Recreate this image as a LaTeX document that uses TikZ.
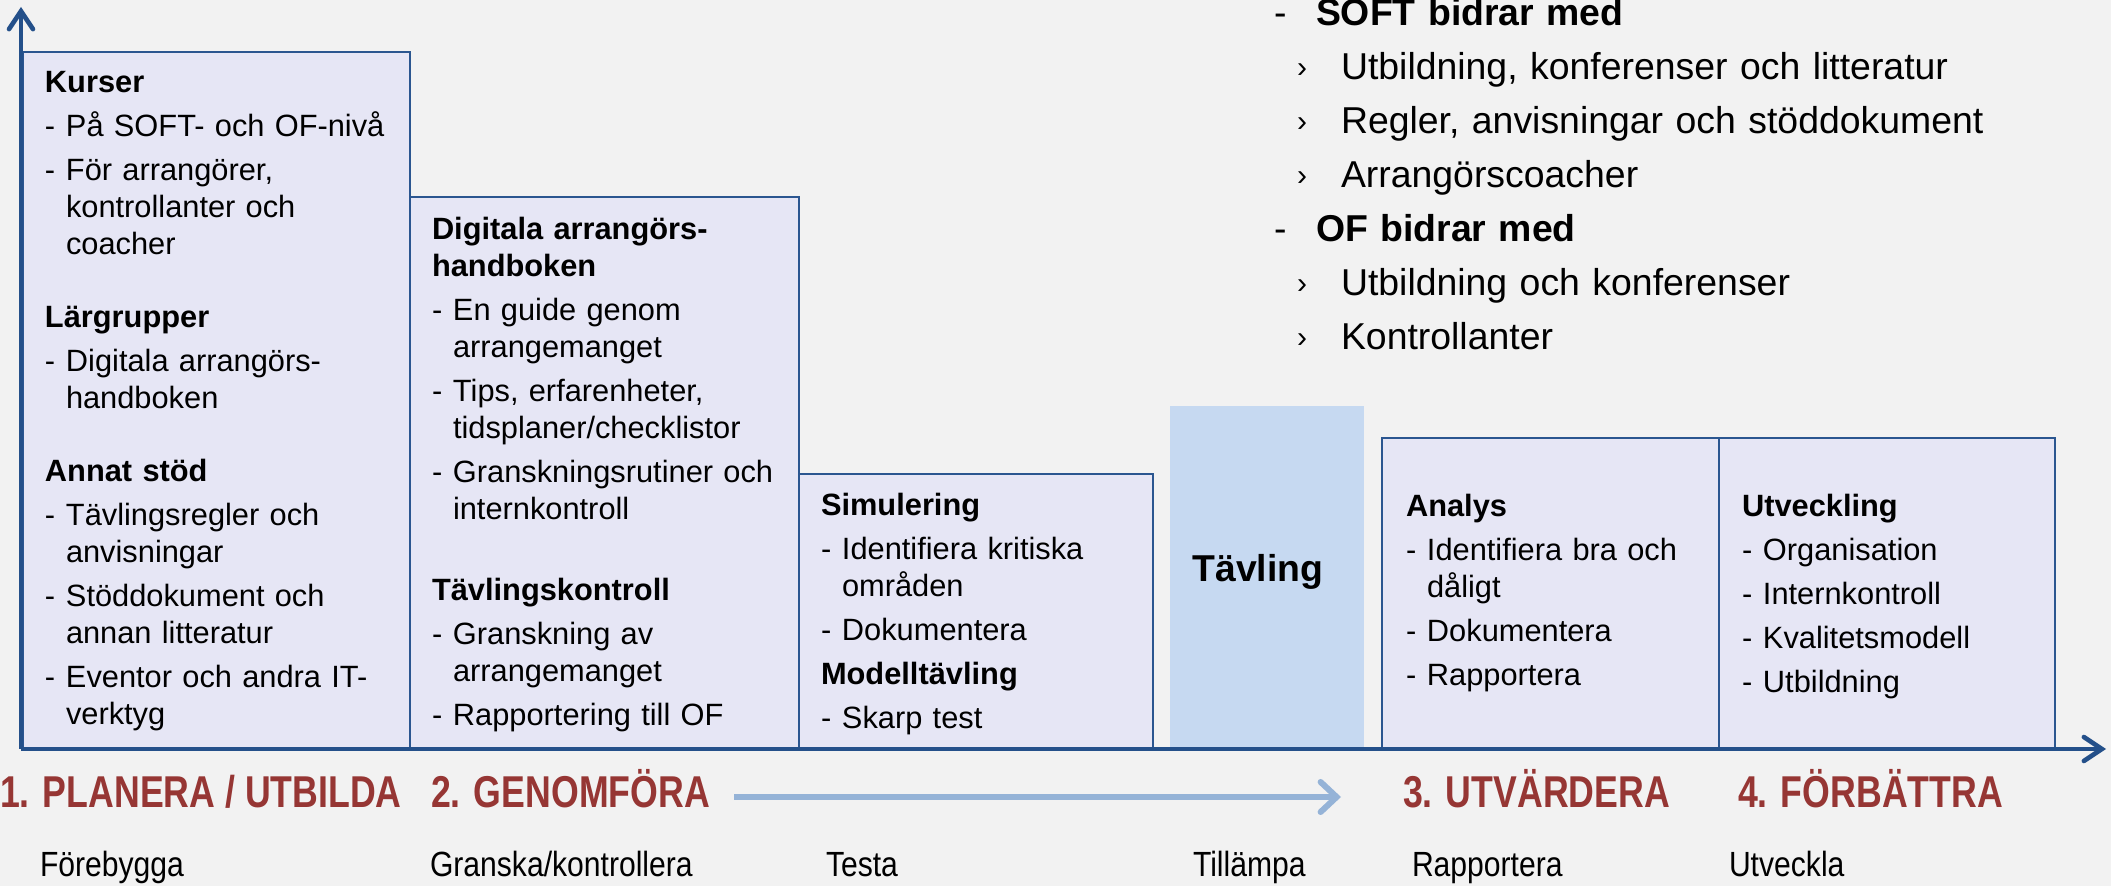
\documentclass[tikz,border=0pt]{standalone}
\usepackage{fontspec}
\setmainfont{Liberation Sans}
\newfontfamily\phasefont[FakeStretch=0.80]{Liberation Sans}
\newfontfamily\stepfont[FakeStretch=0.86]{Liberation Sans}
\usetikzlibrary{arrows.meta,fit}

\definecolor{bgcol}{HTML}{F2F2F2}
\definecolor{boxfill}{HTML}{E6E6F5}
\definecolor{boxline}{HTML}{2B5690}
\definecolor{axiscol}{HTML}{24508A}
\definecolor{tavfill}{HTML}{C6D9F1}
\definecolor{phasered}{HTML}{963634}
\definecolor{flowcol}{HTML}{95B3D7}

% dash bullet and continuation indent inside the boxes
\newcommand\dd{\makebox[10.5pt][l]{-}}
\newcommand\ind{\hspace*{10.5pt}}
% right-hand list: dash heading and angle bullet
\newcommand\hd{\makebox[21pt][l]{-}}
\newcommand\ab{\hspace*{11.5pt}\makebox[22pt][l]{\raisebox{1.2pt}{\fontsize{15}{15}\selectfont ›}}}

\tikzset{
  phasebox/.style={draw=boxline, line width=1.4pt, fill=boxfill, inner sep=0pt, outer sep=0pt},
  tavbox/.style={fill=tavfill, inner sep=0pt, outer sep=0pt},
  boxtext/.style={anchor=base west, inner sep=0pt, outer sep=0pt, text width=#1,
    align=left, font=\fontsize{15.4}{18.5}\selectfont},
  listtext/.style={anchor=base west, inner sep=0pt, outer sep=0pt, text width=420pt,
    align=left, font=\fontsize{18.7}{27}\selectfont},
  phaselabel/.style={anchor=base west, inner sep=0pt, outer sep=0pt,
    text=phasered, font=\phasefont\bfseries\fontsize{22.3}{26}\selectfont},
  steplabel/.style={anchor=base west, inner sep=0pt, outer sep=0pt,
    font=\stepfont\fontsize{17.5}{21}\selectfont},
  axisline/.style={draw=axiscol, line width=2.3pt,
    -{Straight Barb[length=9pt,width=12pt,line cap=round]}},
  flowline/.style={draw=flowcol, line width=3pt,
    -{Straight Barb[length=8pt,width=15pt,line cap=round]}},
}

\begin{document}
\begin{tikzpicture}[x=0.5pt,y=-0.5pt]
\useasboundingbox (0,0) rectangle (2111,886);
\fill[bgcol] (0,0) rectangle (2111,886);

% phase boxes standing on the time axis
\node[phasebox, fit={(23,52) (410,749)}] (kurs) {};
\node[phasebox, fit={(410,197) (799,749)}] (hand) {};
\node[phasebox, fit={(799,474) (1153,749)}] (sim) {};
\node[tavbox, fit={(1170,406) (1364,749)}] (tav) {};
\node[phasebox, fit={(1382,438) (1719,749)}] (anal) {};
\node[phasebox, fit={(1719,438) (2055,749)}] (utv) {};

% box contents
\node[boxtext=180pt] (kursT) at (45,93) {%
\textbf{Kurser}\\[3.5pt]
\dd På SOFT- och OF-nivå\\[3.5pt]
\dd För arrangörer,\\
\ind kontrollanter och\\
\ind coacher\\[18pt]
\textbf{Lärgrupper}\\[3.5pt]
\dd Digitala arrangörs-\\
\ind handboken\\[18pt]
\textbf{Annat stöd}\\[3.5pt]
\dd Tävlingsregler och\\
\ind anvisningar\\[3.5pt]
\dd Stöddokument och\\
\ind annan litteratur\\[3.5pt]
\dd Eventor och andra IT-\\
\ind verktyg};

\node[boxtext=185pt] (handT) at (432,240) {%
\textbf{Digitala arrangörs-}\\
\textbf{handboken}\\[3.5pt]
\dd En guide genom\\
\ind arrangemanget\\[3.5pt]
\dd Tips, erfarenheter,\\
\ind tidsplaner/checklistor\\[3.5pt]
\dd Granskningsrutiner och\\
\ind internkontroll\\[22pt]
\textbf{Tävlingskontroll}\\[3.5pt]
\dd Granskning av\\
\ind arrangemanget\\[3.5pt]
\dd Rapportering till OF};

\node[boxtext=165pt] (simT) at (821,516) {%
\textbf{Simulering}\\[3.5pt]
\dd Identifiera kritiska\\
\ind områden\\[3.5pt]
\dd Dokumentera\\[3.5pt]
\textbf{Modelltävling}\\[3.5pt]
\dd Skarp test};

\node[anchor=base, inner sep=0pt, font=\bfseries\fontsize{18.7}{22}\selectfont]
  (tavT) at (1258,582) {Tävling};

\node[boxtext=160pt] (analT) at (1406,517) {%
\textbf{Analys}\\[3.5pt]
\dd Identifiera bra och\\
\ind dåligt\\[3.5pt]
\dd Dokumentera\\[3.5pt]
\dd Rapportera};

\node[boxtext=160pt] (utvT) at (1742,517) {%
\textbf{Utveckling}\\[3.5pt]
\dd Organisation\\[3.5pt]
\dd Internkontroll\\[3.5pt]
\dd Kvalitetsmodell\\[3.5pt]
\dd Utbildning};

% contributions list, top right
\node[listtext] (bidrag) at (1274,26) {%
\hd\textbf{SOFT bidrar med}\\
\ab Utbildning, konferenser och litteratur\\
\ab Regler, anvisningar och stöddokument\\
\ab Arrangörscoacher\\
\hd\textbf{OF bidrar med}\\
\ab Utbildning och konferenser\\
\ab Kontrollanter};

% axes
\coordinate (origin) at (21,749);
\coordinate (yTop) at (21,7);
\coordinate (xEnd) at (2106,749);
\draw[axisline] (origin) -- (yTop);
\draw[axisline] (origin) -- (xEnd);

% phase headings
\node[phaselabel] (p1) at (0,808) {1. PLANERA / UTBILDA};
\node[phaselabel] (p2) at (431,808) {2. GENOMFÖRA};
\node[phaselabel] (p3) at (1403,808) {3. UTVÄRDERA};
\node[phaselabel] (p4) at (1738,808) {4. FÖRBÄTTRA};

% flow arrow between the headings
\coordinate (flowS) at (734,797);
\coordinate (flowE) at (1341,797);
\draw[flowline] (flowS) -- (flowE);

% activity words
\node[steplabel] (s1) at (40,877) {Förebygga};
\node[steplabel] (s2) at (430,877) {Granska/kontrollera};
\node[steplabel] (s3) at (826,877) {Testa};
\node[steplabel] (s4) at (1193,877) {Tillämpa};
\node[steplabel] (s5) at (1412,877) {Rapportera};
\node[steplabel] (s6) at (1729,877) {Utveckla};
\end{tikzpicture}
\end{document}
